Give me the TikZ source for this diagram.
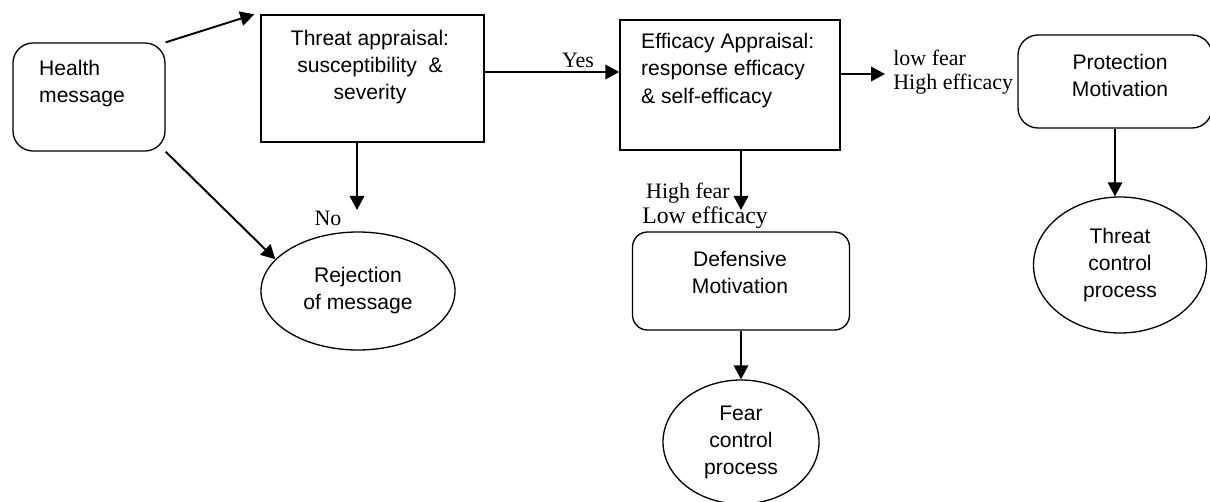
\documentclass[tikz,border=0pt]{standalone}
\usepackage{fontspec}
\setmainfont{Liberation Serif}
\setsansfont{Liberation Sans}
\usetikzlibrary{arrows.meta,shapes.geometric}

\begin{document}
\begin{tikzpicture}[x=0.2mm,y=-0.2mm,
        box/.style={draw,line width=0.75pt,rectangle},
        rbox/.style={box,rounded corners=4mm},
        oval/.style={draw,line width=0.75pt,ellipse,inner sep=0pt,align=center,
            font=\sffamily\fontsize{12}{15.4}\selectfont},
        txt/.style={font=\sffamily\fontsize{12}{15.4}\selectfont},
        lbl/.style={font=\fontsize{12.5}{14}\selectfont,align=left,inner sep=0pt},
        arr/.style={line width=1.1pt,-{Triangle[length=2.8mm,width=2.9mm]}}]
        \useasboundingbox (0,0) rectangle (1210,502);
        %% boxes
        \node[rbox,minimum width=30.4mm,minimum height=21.6mm] (health) at (89,97) {};
        \node[txt,align=left,anchor=west] (healthtxt) at (33,84) {Health\\message};
        \node[box,minimum width=44.6mm,minimum height=25.4mm] (threat) at (372.5,78.5) {};
        \node[txt,align=center] (threattxt) at (370,67) {Threat appraisal:\\susceptibility~ \&\\severity};
        \node[box,minimum width=44mm,minimum height=26mm] (eff) at (730,85) {};
        \node[txt,align=left,anchor=west] (efftxt) at (635,70.5) {Efficacy Appraisal:\\response efficacy\\\& self-efficacy};
        \node[rbox,minimum width=38.8mm,minimum height=18.6mm] (prot) at (1115,81.5) {};
        \node[txt,align=center] (prottxt) at (1120,75) {Protection\\Motivation};
        \node[rbox,rounded corners=3mm,minimum width=43.4mm,minimum height=19.6mm] (defm) at (741,281) {};
        \node[txt,align=center] (defmtxt) at (740,272.5) {Defensive\\Motivation};
        %% outcomes
        \node[oval,minimum width=38.8mm,minimum height=23.6mm] (rej) at (358,291) {Rejection\\of message};
        \node[oval,minimum width=34.6mm,minimum height=27.2mm] (tc) at (1120,265) {Threat\\control\\process};
        \node[oval,minimum width=31.2mm,minimum height=24.8mm] (fear) at (741,442) {Fear\\control\\process};
        %% arrows
        \coordinate (noend) at (357,210);
        \coordinate (hiend) at (885,74);
        \coordinate (loend) at (741,210);
        \draw[arr] (health.north east) -- ([xshift=-1.2mm]threat.north west);
        \draw[arr] (health.south east) -- (rej.159);
        \draw[arr] (threat.south -| noend) -- (noend);
        \draw[arr] ([yshift=1.3mm]threat.east) -- ([yshift=1.3mm]threat.east -| eff.west);
        \draw[arr] (eff.east |- hiend) -- (hiend);
        \draw[arr] (eff.south -| loend) -- (loend);
        \draw[arr] (defm.south) -- (fear.north);
        \draw[arr] (prot.south) -- (prot.south |- tc.north);
        %% labels
        \node[lbl] (yes) at (578,60) {Yes};
        \node[lbl] (no) at (328,218) {No};
        \node[lbl,anchor=west] (lohi) at (893,72) {low fear\\High efficacy};
        \node[lbl] (hifear) at (688,193) {High fear};
        \node[lbl,font=\fontsize{13.5}{15}\selectfont] (loeff) at (705,218) {Low efficacy};
\end{tikzpicture}
\end{document}
